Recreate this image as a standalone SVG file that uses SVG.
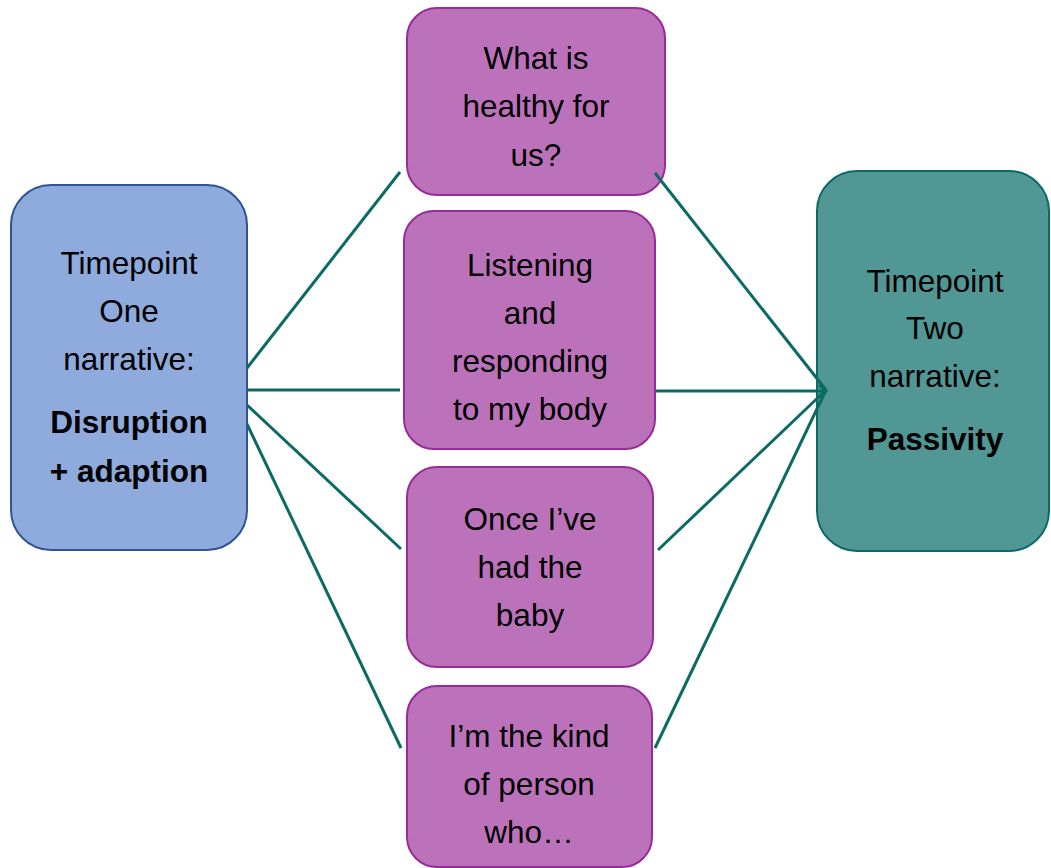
<svg xmlns="http://www.w3.org/2000/svg" width="1051" height="868" viewBox="0 0 1051 868">
<defs>
<style>
.t{font-family:"Liberation Sans",Arial,sans-serif;font-size:31.5px;fill:#000;text-anchor:middle}
.b{font-weight:bold}
.p{fill:#BC72BA;stroke:#982B98;stroke-width:2}
.c{stroke:#0C6A65;stroke-width:3;fill:none}
</style>
<marker id="ah" viewBox="0 0 10 14" refX="8" refY="7" markerWidth="10" markerHeight="14" markerUnits="userSpaceOnUse" orient="auto">
<path d="M1,1 L8,7 L1,13" fill="none" stroke="#0C6A65" stroke-width="3"/>
</marker>
</defs>
<rect width="1051" height="868" fill="#fff"/>
<g id="timepoint-one">
<rect x="11" y="185" width="236" height="365" rx="40" fill="#8FAADC" stroke="#2F5597" stroke-width="2"/>
<text class="t" x="129" y="274">Timepoint</text>
<text class="t" x="129" y="322">One</text>
<text class="t" x="129" y="370">narrative:</text>
<text class="t b" x="129" y="433">Disruption</text>
<text class="t b" x="129" y="482">+ adaption</text>
</g>
<g id="timepoint-two">
<rect x="817" y="171" width="232" height="380" rx="40" fill="#519795" stroke="#0C6A65" stroke-width="2"/>
<text class="t" x="935" y="292">Timepoint</text>
<text class="t" x="935" y="339">Two</text>
<text class="t" x="935" y="387">narrative:</text>
<text class="t b" x="935" y="450">Passivity</text>
</g>
<g id="healthy">
<rect class="p" x="407" y="8" width="258" height="187" rx="30"/>
<text class="t" x="536" y="69">What is</text>
<text class="t" x="536" y="117">healthy for</text>
<text class="t" x="536" y="166">us?</text>
</g>
<g id="listening">
<rect class="p" x="404" y="211" width="251" height="238" rx="30"/>
<text class="t" x="530" y="276">Listening</text>
<text class="t" x="530" y="324">and</text>
<text class="t" x="530" y="372">responding</text>
<text class="t" x="530" y="420">to my body</text>
</g>
<g id="baby">
<rect class="p" x="407" y="467" width="246" height="200" rx="30"/>
<text class="t" x="530" y="530">Once I’ve</text>
<text class="t" x="530" y="578">had the</text>
<text class="t" x="530" y="626">baby</text>
</g>
<g id="kind">
<rect class="p" x="407" y="686" width="245" height="181" rx="30"/>
<text class="t" x="529" y="747">I’m the kind</text>
<text class="t" x="529" y="795">of person</text>
<text class="t" x="529" y="843">who…</text>
</g>
<g id="connectors">
<line class="c" x1="247" y1="368" x2="400" y2="172"/>
<line class="c" x1="247" y1="390" x2="400" y2="390"/>
<line class="c" x1="247" y1="405" x2="401" y2="549"/>
<line class="c" x1="247" y1="424" x2="401" y2="748"/>
<line class="c" x1="655" y1="173" x2="826" y2="390"/>
<line class="c" x1="656" y1="391" x2="826" y2="391" marker-end="url(#ah)"/>
<line class="c" x1="658" y1="550" x2="826" y2="390"/>
<line class="c" x1="655" y1="748" x2="826" y2="390"/>
</g>
</svg>
